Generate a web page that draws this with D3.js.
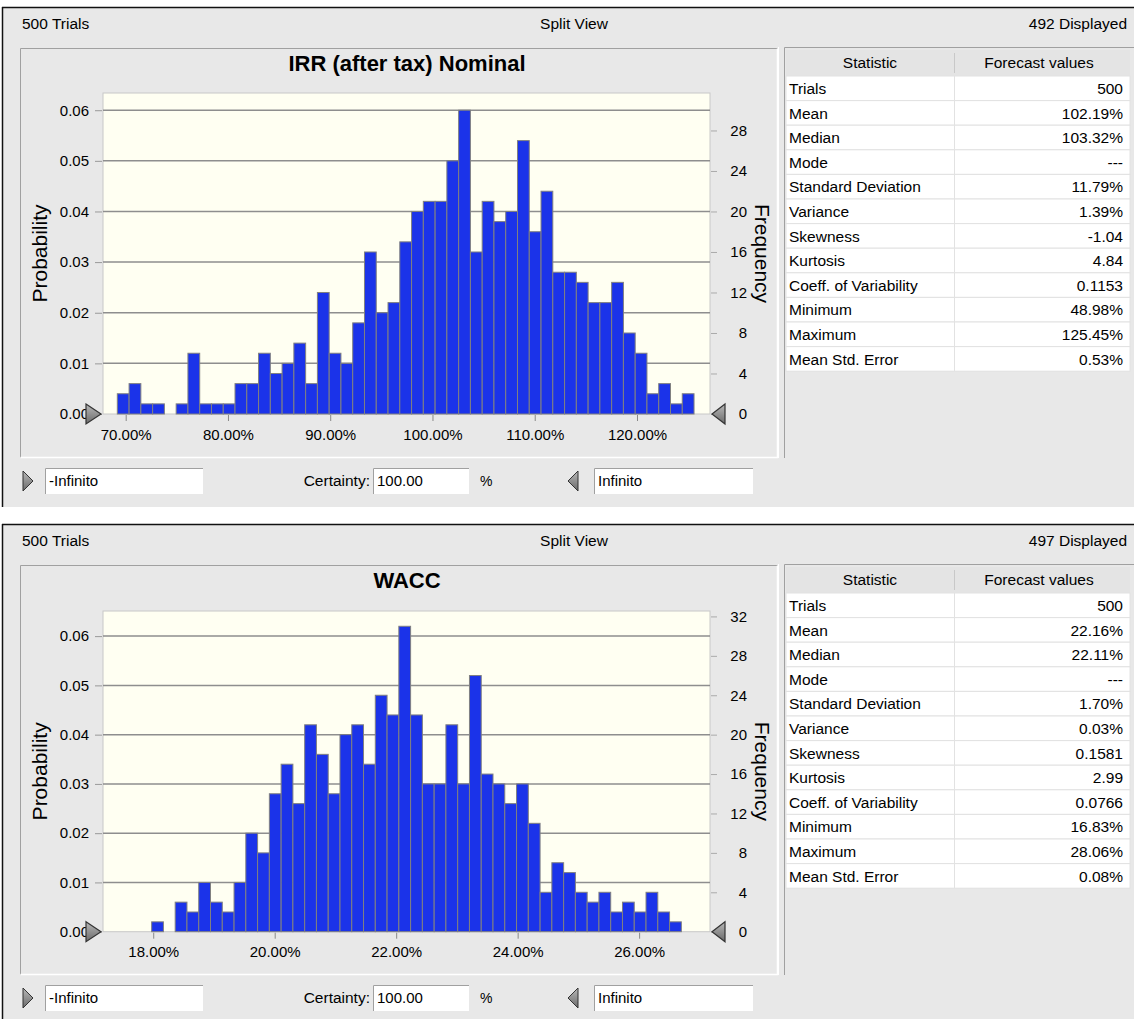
<!DOCTYPE html>
<html><head><meta charset="utf-8">
<script src="https://cdn.jsdelivr.net/npm/d3@7"></script>
<style>
body{margin:0;background:#fff;}
text{font-family:"Liberation Sans",Arial,sans-serif;}
</style></head>
<body><svg id="c" width="1134" height="1019"></svg>
<script>
// ---------- DATA ----------
const trials = 500;
// IRR (after tax) Nominal histogram: frequency per bin
const irrCounts = [2,3,1,1,0,1,6,1,1,1,3,3,6,4,5,7,3,12,6,5,9,16,10,11,17,
                   20,21,21,25,30,16,21,19,20,27,18,22,14,14,13,11,11,13,8,6,2,3,1,2];
const irrBinStart = 69.18, irrBinWidth = 1.151;
const irrXTicks = [70,80,90,100,110,120];
const irrFreqTicks = [0,4,8,12,16,20,24,28];
const irrProbTicks = [0,0.01,0.02,0.03,0.04,0.05,0.06];
const irrStatValues = ["500","102.19%","103.32%","---","11.79%","1.39%","-1.04","4.84","0.1153","48.98%","125.45%","0.53%"];

// WACC histogram
const waccCounts = [1,0,3,2,5,3,2,5,10,8,14,17,13,21,18,14,20,21,17,24,22,31,22,
                    15,15,21,15,26,16,15,13,15,11,4,7,6,4,3,4,2,3,2,4,2,1];
const waccBinStart = 17.974, waccBinWidth = 0.1938;
const waccXTicks = [18,20,22,24,26];
const waccFreqTicks = [0,4,8,12,16,20,24,28,32];
const waccProbTicks = [0,0.01,0.02,0.03,0.04,0.05,0.06];
const waccStatValues = ["500","22.16%","22.11%","---","1.70%","0.03%","0.1581","2.99","0.0766","16.83%","28.06%","0.08%"];

const statNames = ["Trials","Mean","Median","Mode","Standard Deviation","Variance","Skewness","Kurtosis","Coeff. of Variability","Minimum","Maximum","Mean Std. Error"];

const panels = [
  {title:"IRR (after tax) Nominal", displayed:"492 Displayed", counts:irrCounts, binStart:irrBinStart, binWidth:irrBinWidth,
   xDomain:[67.78,127.14], yMax:0.0634, xTicks:irrXTicks, freqTicks:irrFreqTicks, probTicks:irrProbTicks, stats:irrStatValues},
  {title:"WACC", displayed:"497 Displayed", counts:waccCounts, binStart:waccBinStart, binWidth:waccBinWidth,
   xDomain:[17.173,27.167], yMax:0.0651, xTicks:waccXTicks, freqTicks:waccFreqTicks, probTicks:waccProbTicks, stats:waccStatValues}
];

// ---------- DRAW ----------
const svg = d3.select("#c");
const BG = "#e8e8e8";
const FONT = '"Liberation Sans",Arial,sans-serif';

panels.forEach((p, pi) => {
  const oy = pi * 517;
  const g = svg.append("g").attr("transform", `translate(0,${oy})`);
  const panelH = pi === 0 ? 500 : 495;
  // panel background
  g.append("rect").attr("x",2).attr("y",7).attr("width",1132).attr("height",panelH).attr("fill",BG);
  g.append("line").attr("x1",2).attr("x2",1134).attr("y1",7.5).attr("y2",7.5).attr("stroke","#111").attr("stroke-width",1.5);
  g.append("line").attr("x1",2.5).attr("x2",2.5).attr("y1",7).attr("y2",7+panelH).attr("stroke","#111").attr("stroke-width",1.5);

  // header texts
  g.append("text").attr("x",22).attr("y",29).attr("font-size",15.5).text(`${trials} Trials`);
  g.append("text").attr("x",574).attr("y",29).attr("font-size",15.5).attr("text-anchor","middle").text("Split View");
  g.append("text").attr("x",1127).attr("y",29).attr("font-size",15.5).attr("text-anchor","end").text(p.displayed);

  // chart frame (sunken)
  g.append("rect").attr("x",20.5).attr("y",48.5).attr("width",757).attr("height",409).attr("fill",BG).attr("stroke","none");
  g.append("path").attr("d","M20.5,457.5 V48.5 H777.5").attr("fill","none").attr("stroke","#a0a0a0");
  g.append("path").attr("d","M20.5,457.5 H777.5 V48.5").attr("fill","none").attr("stroke","#ffffff").attr("stroke-width",1.5);
  // table frame
  g.append("path").attr("d","M784.5,458 V47.5 H1134").attr("fill","none").attr("stroke","#a0a0a0");
  g.append("line").attr("x1",778.5).attr("x2",778.5).attr("y1",47).attr("y2",458).attr("stroke","#fff");

  // title
  g.append("text").attr("x",407).attr("y",71).attr("font-size",22).attr("font-weight","bold")
    .attr("text-anchor","middle").text(p.title);

  // plot area
  const L = 103, R = 710, T = pi === 0 ? 93 : 94, B = pi === 0 ? 414 : 414.7;
  const x = d3.scaleLinear().domain(p.xDomain).range([L,R]);
  const y = d3.scaleLinear().domain([0,p.yMax]).range([B,T]);
  const yF = d3.scaleLinear().domain([0,p.yMax*trials]).range([B,T]);

  g.append("rect").attr("x",L).attr("y",T).attr("width",R-L).attr("height",B-T)
    .attr("fill","#fffff2").attr("stroke","#c8c8c8").attr("stroke-width",1);

  // gridlines
  g.append("g").selectAll("line").data(p.probTicks.filter(d=>d>0)).join("line")
    .attr("x1",L).attr("x2",R).attr("y1",d=>y(d)).attr("y2",d=>y(d))
    .attr("stroke","#8e8e8e").attr("stroke-width",1.5);

  // bars
  g.append("g").selectAll("rect").data(p.counts).join("rect")
    .attr("x",(d,i)=>x(p.binStart+i*p.binWidth))
    .attr("width",(d,i)=>x(p.binStart+(i+1)*p.binWidth)-x(p.binStart+i*p.binWidth))
    .attr("y",d=>y(d/trials))
    .attr("height",d=>B-y(d/trials))
    .attr("fill","#1b33e9").attr("stroke","#808080").attr("stroke-width",1)
    .attr("display",d=>d===0?"none":null);

  // left axis
  const la = g.append("g").attr("transform",`translate(${L-1},0)`)
    .call(d3.axisLeft(y).tickValues(p.probTicks).tickFormat(d3.format(".2f")).tickSize(7).tickPadding(6));
  la.select(".domain").remove();
  la.selectAll("line").attr("stroke","#999");
  la.selectAll("text").attr("font-size",15).attr("font-family",FONT).attr("fill","#000");

  // right axis (frequency), labels right-aligned
  const ra = g.append("g").attr("transform",`translate(${R+1},0)`)
    .call(d3.axisRight(yF).tickValues(p.freqTicks).tickSize(6).tickPadding(30));
  ra.select(".domain").remove();
  ra.selectAll("line").attr("stroke","#aaa");
  ra.selectAll("text").attr("font-size",15).attr("font-family",FONT).attr("fill","#000").attr("text-anchor","end");

  // bottom axis
  const ba = g.append("g").attr("transform",`translate(0,${B+1})`)
    .call(d3.axisBottom(x).tickValues(p.xTicks).tickFormat(d=>d.toFixed(2)+"%").tickSize(6).tickPadding(8));
  ba.select(".domain").remove();
  ba.selectAll("line").attr("stroke","#888");
  ba.selectAll("text").attr("font-size",15).attr("font-family",FONT).attr("fill","#000");

  // axis titles
  g.append("text").attr("transform",`translate(47,${(T+B)/2}) rotate(-90)`).attr("font-size",21)
    .attr("text-anchor","middle").text("Probability");
  g.append("text").attr("transform",`translate(755,${(T+B)/2}) rotate(90)`).attr("font-size",21)
    .attr("text-anchor","middle").text("Frequency");

  // grabber triangles
  const triGrad = "triGrad"+pi;
  const defs = g.append("defs");
  const lg = defs.append("linearGradient").attr("id",triGrad).attr("x1",0).attr("y1",0).attr("x2",0).attr("y2",1);
  lg.append("stop").attr("offset","0").attr("stop-color","#b8b8b8");
  lg.append("stop").attr("offset","1").attr("stop-color","#6a6a6a");
  g.append("path").attr("d",`M${L-17},${B-10} L${L-2},${B} L${L-17},${B+10} Z`)
    .attr("fill",`url(#${triGrad})`).attr("stroke","#333").attr("stroke-width",1.2);
  g.append("path").attr("d",`M${R+15},${B-10} L${R+2},${B} L${R+15},${B+10} Z`)
    .attr("fill",`url(#${triGrad})`).attr("stroke","#333").attr("stroke-width",1.2);

  // bottom controls
  const cy = 481;
  function inputBox(x0,w,txt){
    g.append("rect").attr("x",x0).attr("y",cy-13).attr("width",w).attr("height",26).attr("fill","#fff");
    g.append("path").attr("d",`M${x0+0.5},${cy+13} V${cy-12.5} H${x0+w}`).attr("fill","none").attr("stroke","#a0a0a0");
    g.append("text").attr("x",x0+4).attr("y",cy+5).attr("font-size",15).text(txt);
  }
  g.append("path").attr("d",`M23,${cy-10} L33,${cy} L23,${cy+10} Z`).attr("fill",`url(#${triGrad})`).attr("stroke","#333");
  inputBox(45,158,"-Infinito");
  g.append("text").attr("x",370).attr("y",cy+5).attr("font-size",15.5).attr("text-anchor","end").text("Certainty:");
  inputBox(373,96,"100.00");
  g.append("text").attr("x",480).attr("y",cy+5).attr("font-size",14).text("%");
  g.append("path").attr("d",`M578,${cy-10} L568,${cy} L578,${cy+10} Z`).attr("fill",`url(#${triGrad})`).attr("stroke","#333");
  inputBox(594,159,"Infinito");

  // statistics table
  const tL = 786, tC = 954, tR = 1130, hT = 50, hB = 76, rh = 24.6;
  g.append("rect").attr("x",tL).attr("y",hT).attr("width",tR-tL).attr("height",hB-hT).attr("fill","#e4e4e4");
  g.append("line").attr("x1",tC+0.5).attr("x2",tC+0.5).attr("y1",hT+3).attr("y2",hB-3).attr("stroke","#c8c8c8");
  g.append("text").attr("x",(tL+tC)/2).attr("y",hT+18).attr("font-size",15.5).attr("text-anchor","middle").text("Statistic");
  g.append("text").attr("x",(tC+tR)/2-3).attr("y",hT+18).attr("font-size",15.5).attr("text-anchor","middle").text("Forecast values");
  const rows = g.append("g");
  statNames.forEach((name,i)=>{
    const ry = hB + i*rh;
    rows.append("rect").attr("x",tL).attr("y",ry).attr("width",tR-tL).attr("height",rh).attr("fill","#fff")
      .attr("stroke","#e2e2e2").attr("stroke-width",1);
    rows.append("line").attr("x1",tC+0.5).attr("x2",tC+0.5).attr("y1",ry).attr("y2",ry+rh).attr("stroke","#e2e2e2");
    rows.append("text").attr("x",tL+3).attr("y",ry+18).attr("font-size",15.5).text(name);
    rows.append("text").attr("x",1123).attr("y",ry+18).attr("font-size",15.5).attr("text-anchor","end").text(p.stats[i]);
  });
});
</script></body></html>
